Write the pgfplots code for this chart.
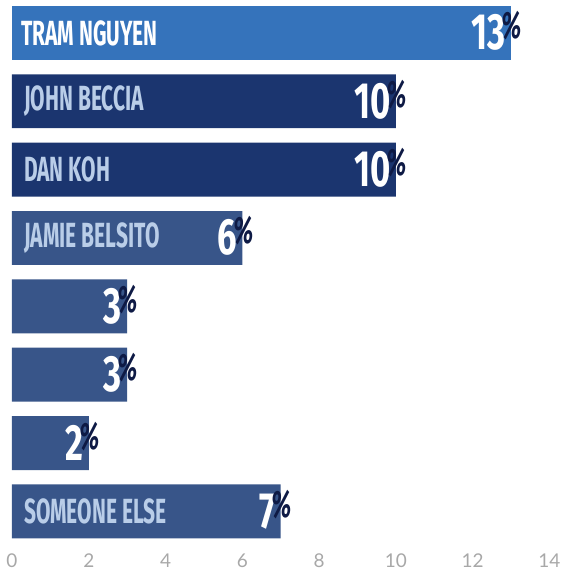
\documentclass[border=0pt]{standalone}
\usepackage{pgfplots}
\pgfplotsset{compat=1.18}
\usepackage{fontspec}
\setmainfont{Lato}
\newfontfamily\cond[FakeStretch=0.6]{Fira Sans}
\newfontfamily\condnum[FakeStretch=0.68]{Fira Sans}
\newfontfamily\pctfont[FakeStretch=0.62,FakeSlant=0.1]{Fira Sans}
\definecolor{bLight}{HTML}{3573BB}
\definecolor{bDark}{HTML}{1B356F}
\definecolor{bMid}{HTML}{385589}
\definecolor{nameC}{HTML}{B9CDE8}
\definecolor{pctC}{HTML}{0E1A45}
\definecolor{tickC}{HTML}{A8A8A8}
\newcommand\valnum[1]{{\condnum\bfseries\fontsize{51}{51}\selectfont\color{white}#1}\rlap{\kern-5pt\raisebox{11pt}{\pctfont\bfseries\fontsize{38}{38}\selectfont\color{pctC}\%}}}
\newcommand\barname[1]{{\cond\bfseries\fontsize{35}{35}\selectfont #1}}
\begin{document}
\begin{tikzpicture}
\begin{axis}[
  name=ax,
  scale only axis,
  width=538pt, height=549.5pt,
  xbar, bar width=54pt,
  xmin=0, xmax=14,
  ymin=0.52, ymax=8.55,
  y dir=reverse,
  xtick={0,2,...,14},
  ytick=\empty,
  axis line style={draw=none},
  major tick length=0pt,
  /pgf/number format/assume math mode=true,
  xticklabel style={font=\fontsize{19}{19}\selectfont, text=tickC, yshift=-1pt},
  nodes near coords={\valnum{\pgfmathprintnumber\pgfplotspointmeta}},
  nodes near coords style={anchor=east, inner sep=0pt, xshift=-5pt, yshift=2pt},
  clip=false,
]
\addplot[draw=none, fill=bLight, bar shift=0pt] coordinates {(13,1)};
\addplot[draw=none, fill=bDark, bar shift=0pt] coordinates {(10,2) (10,3)};
\addplot[draw=none, fill=bMid, bar shift=0pt] coordinates {(6,4) (3,5) (3,6) (2,7) (7,8)};
\node[anchor=west, inner sep=0pt, text=white] at (axis cs:0,1) [xshift=9pt] {\barname{TRAM NGUYEN}};
\node[anchor=west, inner sep=0pt, text=nameC] at (axis cs:0,2) [xshift=12pt] {\barname{JOHN BECCIA}};
\node[anchor=west, inner sep=0pt, text=nameC] at (axis cs:0,3) [xshift=12pt] {\barname{DAN KOH}};
\node[anchor=west, inner sep=0pt, text=nameC] at (axis cs:0,4) [xshift=12pt] {\barname{JAMIE BELSITO}};
\node[anchor=west, inner sep=0pt, text=nameC] at (axis cs:0,8) [xshift=12pt] {\barname{SOMEONE ELSE}};
\end{axis}
\path ([shift={(-12pt,-22pt)}]ax.south west) rectangle ([shift={(13pt,0pt)}]ax.north east);
\end{tikzpicture}
\end{document}
